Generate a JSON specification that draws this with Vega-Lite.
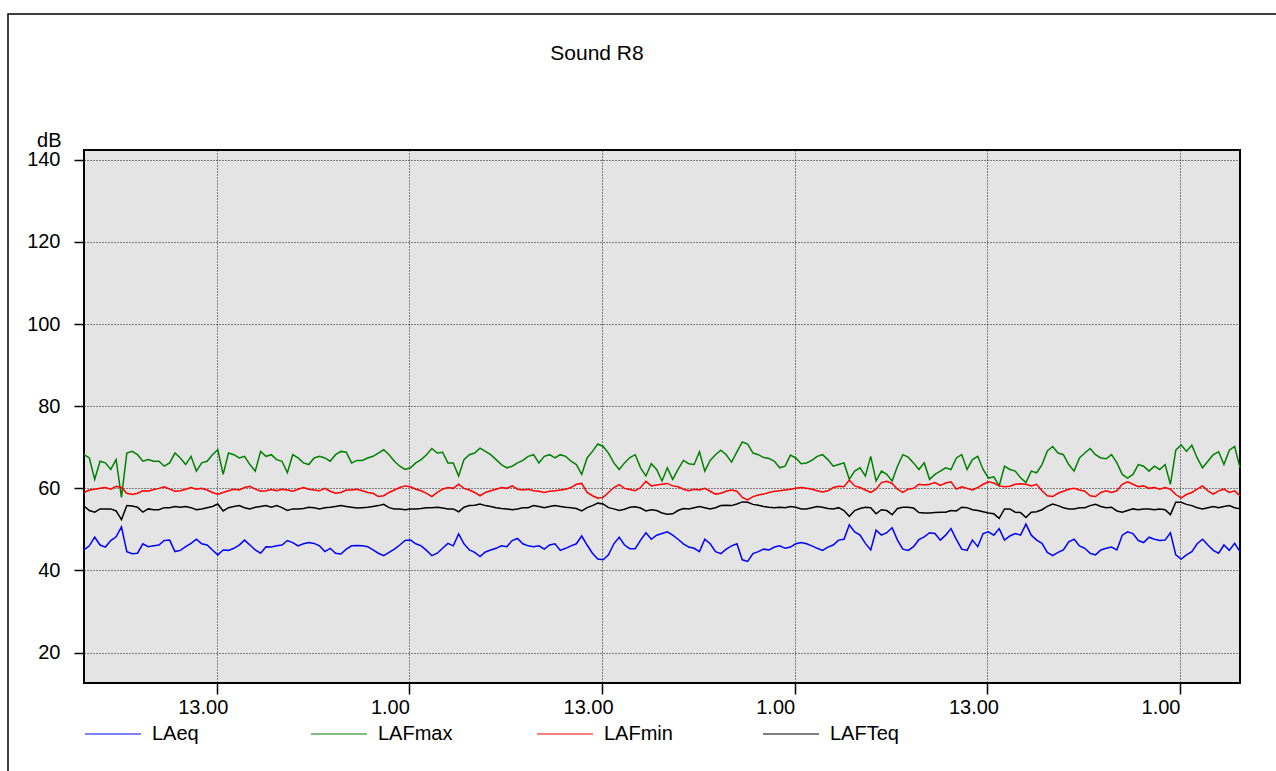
{
"$schema":"https://vega.github.io/schema/vega-lite/v6.json",
"width":1156,"height":533,
"autosize":"none",
"padding":{"left":84,"top":150,"right":36,"bottom":88},
"background":"white",
"config":{"font":"Liberation Sans","view":{"fill":"#e4e4e4","stroke":"#000","strokeWidth":2}},
"title":{"text":"Sound R8","frame":"group","anchor":"middle","dx":-65,"offset":-68,"baseline":"alphabetic","fontSize":21,"fontWeight":"normal","font":"Liberation Sans","color":"#000"},
"layer":[
{"data":{"values":[{}]},
 "mark":{"type":"rect","fill":null,"stroke":"#000","strokeWidth":1.5},
 "encoding":{
  "x":{"datum":{"year":2023,"month":6,"date":5,"hours":0,"minutes":0},"type":"temporal"},
  "x2":{"datum":{"year":2023,"month":6,"date":9,"hours":12,"minutes":0}},
  "y":{"datum":175.5,"type":"quantitative"},
  "y2":{"datum":-60}
 }},
{"data":{"values":[
{"t":"2023-06-05T04:44","LAeq":45.0,"LAFmax":68.2,"LAFmin":59.0,"LAFTeq":55.7},
{"t":"2023-06-05T05:04","LAeq":46.0,"LAFmax":67.4,"LAFmin":59.6,"LAFTeq":54.6},
{"t":"2023-06-05T05:24","LAeq":48.1,"LAFmax":62.2,"LAFmin":59.8,"LAFTeq":54.2},
{"t":"2023-06-05T05:44","LAeq":46.2,"LAFmax":66.6,"LAFmin":60.0,"LAFTeq":55.0},
{"t":"2023-06-05T06:04","LAeq":45.7,"LAFmax":66.2,"LAFmin":60.2,"LAFTeq":55.0},
{"t":"2023-06-05T06:24","LAeq":47.3,"LAFmax":64.6,"LAFmin":59.8,"LAFTeq":55.0},
{"t":"2023-06-05T06:44","LAeq":48.2,"LAFmax":67.0,"LAFmin":60.5,"LAFTeq":54.5},
{"t":"2023-06-05T07:04","LAeq":50.6,"LAFmax":57.8,"LAFmin":60.2,"LAFTeq":52.4},
{"t":"2023-06-05T07:24","LAeq":44.6,"LAFmax":68.6,"LAFmin":58.8,"LAFTeq":55.8},
{"t":"2023-06-05T07:44","LAeq":44.1,"LAFmax":69.0,"LAFmin":58.5,"LAFTeq":55.7},
{"t":"2023-06-05T08:04","LAeq":44.2,"LAFmax":68.2,"LAFmin":58.8,"LAFTeq":55.4},
{"t":"2023-06-05T08:24","LAeq":46.5,"LAFmax":66.6,"LAFmin":59.4,"LAFTeq":54.2},
{"t":"2023-06-05T08:44","LAeq":45.8,"LAFmax":67.0,"LAFmin":59.3,"LAFTeq":55.0},
{"t":"2023-06-05T09:04","LAeq":46.0,"LAFmax":66.6,"LAFmin":59.7,"LAFTeq":54.8},
{"t":"2023-06-05T09:24","LAeq":46.2,"LAFmax":66.6,"LAFmin":60.0,"LAFTeq":54.8},
{"t":"2023-06-05T09:44","LAeq":47.3,"LAFmax":65.4,"LAFmin":60.4,"LAFTeq":55.3},
{"t":"2023-06-05T10:04","LAeq":47.4,"LAFmax":66.2,"LAFmin":59.8,"LAFTeq":55.3},
{"t":"2023-06-05T10:24","LAeq":44.6,"LAFmax":68.6,"LAFmin":59.3,"LAFTeq":55.6},
{"t":"2023-06-05T10:44","LAeq":44.9,"LAFmax":67.4,"LAFmin":59.4,"LAFTeq":55.4},
{"t":"2023-06-05T11:04","LAeq":45.8,"LAFmax":65.8,"LAFmin":59.8,"LAFTeq":55.6},
{"t":"2023-06-05T11:24","LAeq":46.6,"LAFmax":67.8,"LAFmin":60.2,"LAFTeq":55.3},
{"t":"2023-06-05T11:44","LAeq":47.6,"LAFmax":64.2,"LAFmin":59.8,"LAFTeq":54.8},
{"t":"2023-06-05T12:04","LAeq":46.5,"LAFmax":66.2,"LAFmin":60.0,"LAFTeq":55.0},
{"t":"2023-06-05T12:24","LAeq":46.2,"LAFmax":66.6,"LAFmin":59.6,"LAFTeq":55.3},
{"t":"2023-06-05T12:44","LAeq":45.0,"LAFmax":68.2,"LAFmin":59.0,"LAFTeq":55.6},
{"t":"2023-06-05T13:04","LAeq":43.8,"LAFmax":69.4,"LAFmin":58.6,"LAFTeq":56.2},
{"t":"2023-06-05T13:24","LAeq":45.0,"LAFmax":63.4,"LAFmin":59.0,"LAFTeq":54.5},
{"t":"2023-06-05T13:44","LAeq":44.9,"LAFmax":68.6,"LAFmin":59.4,"LAFTeq":55.3},
{"t":"2023-06-05T14:04","LAeq":45.4,"LAFmax":68.2,"LAFmin":59.8,"LAFTeq":55.6},
{"t":"2023-06-05T14:24","LAeq":46.2,"LAFmax":67.4,"LAFmin":59.6,"LAFTeq":55.8},
{"t":"2023-06-05T14:44","LAeq":47.4,"LAFmax":67.8,"LAFmin":60.2,"LAFTeq":55.3},
{"t":"2023-06-05T15:04","LAeq":46.2,"LAFmax":65.8,"LAFmin":60.5,"LAFTeq":55.0},
{"t":"2023-06-05T15:24","LAeq":45.0,"LAFmax":64.2,"LAFmin":59.8,"LAFTeq":55.4},
{"t":"2023-06-05T15:44","LAeq":44.2,"LAFmax":69.0,"LAFmin":59.3,"LAFTeq":55.6},
{"t":"2023-06-05T16:04","LAeq":45.8,"LAFmax":67.8,"LAFmin":59.4,"LAFTeq":55.8},
{"t":"2023-06-05T16:24","LAeq":45.7,"LAFmax":68.2,"LAFmin":59.7,"LAFTeq":55.4},
{"t":"2023-06-05T16:44","LAeq":46.0,"LAFmax":67.0,"LAFmin":59.4,"LAFTeq":55.8},
{"t":"2023-06-05T17:04","LAeq":46.2,"LAFmax":66.6,"LAFmin":59.8,"LAFTeq":55.3},
{"t":"2023-06-05T17:24","LAeq":47.3,"LAFmax":63.8,"LAFmin":59.6,"LAFTeq":54.6},
{"t":"2023-06-05T17:44","LAeq":46.8,"LAFmax":68.2,"LAFmin":59.3,"LAFTeq":55.0},
{"t":"2023-06-05T18:04","LAeq":46.0,"LAFmax":67.4,"LAFmin":59.8,"LAFTeq":55.0},
{"t":"2023-06-05T18:24","LAeq":46.5,"LAFmax":66.2,"LAFmin":60.2,"LAFTeq":55.1},
{"t":"2023-06-05T18:44","LAeq":46.8,"LAFmax":65.8,"LAFmin":59.8,"LAFTeq":55.4},
{"t":"2023-06-05T19:04","LAeq":46.6,"LAFmax":67.4,"LAFmin":59.6,"LAFTeq":55.3},
{"t":"2023-06-05T19:24","LAeq":46.0,"LAFmax":67.8,"LAFmin":59.4,"LAFTeq":55.0},
{"t":"2023-06-05T19:44","LAeq":44.6,"LAFmax":67.4,"LAFmin":60.0,"LAFTeq":55.3},
{"t":"2023-06-05T20:04","LAeq":45.4,"LAFmax":66.6,"LAFmin":59.3,"LAFTeq":55.4},
{"t":"2023-06-05T20:24","LAeq":44.2,"LAFmax":68.2,"LAFmin":58.8,"LAFTeq":55.6},
{"t":"2023-06-05T20:44","LAeq":44.0,"LAFmax":69.0,"LAFmin":59.0,"LAFTeq":55.8},
{"t":"2023-06-05T21:04","LAeq":45.2,"LAFmax":68.8,"LAFmin":59.6,"LAFTeq":55.6},
{"t":"2023-06-05T21:24","LAeq":46.0,"LAFmax":66.2,"LAFmin":59.6,"LAFTeq":55.4},
{"t":"2023-06-05T21:44","LAeq":46.1,"LAFmax":66.8,"LAFmin":59.8,"LAFTeq":55.2},
{"t":"2023-06-05T22:04","LAeq":46.0,"LAFmax":66.8,"LAFmin":59.4,"LAFTeq":55.3},
{"t":"2023-06-05T22:24","LAeq":45.8,"LAFmax":67.4,"LAFmin":59.0,"LAFTeq":55.4},
{"t":"2023-06-05T22:44","LAeq":45.0,"LAFmax":67.8,"LAFmin":58.8,"LAFTeq":55.6},
{"t":"2023-06-05T23:04","LAeq":44.2,"LAFmax":68.6,"LAFmin":58.0,"LAFTeq":55.8},
{"t":"2023-06-05T23:24","LAeq":43.6,"LAFmax":69.4,"LAFmin":58.2,"LAFTeq":56.1},
{"t":"2023-06-05T23:44","LAeq":44.4,"LAFmax":68.2,"LAFmin":59.0,"LAFTeq":55.3},
{"t":"2023-06-06T00:04","LAeq":45.2,"LAFmax":66.6,"LAFmin":59.6,"LAFTeq":55.0},
{"t":"2023-06-06T00:24","LAeq":46.2,"LAFmax":65.4,"LAFmin":60.2,"LAFTeq":55.0},
{"t":"2023-06-06T00:44","LAeq":47.3,"LAFmax":64.6,"LAFmin":60.6,"LAFTeq":54.8},
{"t":"2023-06-06T01:04","LAeq":47.4,"LAFmax":65.0,"LAFmin":60.4,"LAFTeq":55.0},
{"t":"2023-06-06T01:24","LAeq":46.5,"LAFmax":66.2,"LAFmin":59.8,"LAFTeq":55.0},
{"t":"2023-06-06T01:44","LAeq":46.0,"LAFmax":67.0,"LAFmin":59.4,"LAFTeq":55.1},
{"t":"2023-06-06T02:04","LAeq":44.9,"LAFmax":68.2,"LAFmin":58.8,"LAFTeq":55.3},
{"t":"2023-06-06T02:24","LAeq":43.6,"LAFmax":69.7,"LAFmin":58.0,"LAFTeq":55.3},
{"t":"2023-06-06T02:44","LAeq":44.2,"LAFmax":68.6,"LAFmin":59.0,"LAFTeq":55.4},
{"t":"2023-06-06T03:04","LAeq":45.4,"LAFmax":68.8,"LAFmin":59.8,"LAFTeq":55.2},
{"t":"2023-06-06T03:24","LAeq":46.6,"LAFmax":66.2,"LAFmin":60.2,"LAFTeq":55.0},
{"t":"2023-06-06T03:44","LAeq":46.0,"LAFmax":66.2,"LAFmin":60.0,"LAFTeq":55.0},
{"t":"2023-06-06T04:04","LAeq":48.9,"LAFmax":63.0,"LAFmin":61.0,"LAFTeq":54.3},
{"t":"2023-06-06T04:24","LAeq":46.5,"LAFmax":67.0,"LAFmin":60.0,"LAFTeq":55.4},
{"t":"2023-06-06T04:44","LAeq":45.0,"LAFmax":68.2,"LAFmin":59.6,"LAFTeq":55.8},
{"t":"2023-06-06T05:04","LAeq":44.4,"LAFmax":68.6,"LAFmin":59.0,"LAFTeq":55.9},
{"t":"2023-06-06T05:24","LAeq":43.4,"LAFmax":69.8,"LAFmin":58.2,"LAFTeq":56.2},
{"t":"2023-06-06T05:44","LAeq":44.5,"LAFmax":69.0,"LAFmin":59.0,"LAFTeq":55.8},
{"t":"2023-06-06T06:04","LAeq":45.0,"LAFmax":68.2,"LAFmin":59.4,"LAFTeq":55.6},
{"t":"2023-06-06T06:24","LAeq":45.4,"LAFmax":67.0,"LAFmin":59.8,"LAFTeq":55.3},
{"t":"2023-06-06T06:44","LAeq":46.0,"LAFmax":65.8,"LAFmin":60.2,"LAFTeq":55.1},
{"t":"2023-06-06T07:04","LAeq":45.8,"LAFmax":65.0,"LAFmin":60.0,"LAFTeq":55.0},
{"t":"2023-06-06T07:24","LAeq":47.3,"LAFmax":65.4,"LAFmin":60.6,"LAFTeq":54.8},
{"t":"2023-06-06T07:44","LAeq":47.8,"LAFmax":66.2,"LAFmin":59.8,"LAFTeq":55.0},
{"t":"2023-06-06T08:04","LAeq":46.5,"LAFmax":66.8,"LAFmin":59.6,"LAFTeq":55.3},
{"t":"2023-06-06T08:24","LAeq":46.0,"LAFmax":67.8,"LAFmin":59.8,"LAFTeq":55.3},
{"t":"2023-06-06T08:44","LAeq":45.8,"LAFmax":68.2,"LAFmin":59.4,"LAFTeq":55.8},
{"t":"2023-06-06T09:04","LAeq":46.0,"LAFmax":66.2,"LAFmin":59.3,"LAFTeq":55.6},
{"t":"2023-06-06T09:24","LAeq":45.2,"LAFmax":67.8,"LAFmin":59.0,"LAFTeq":55.3},
{"t":"2023-06-06T09:44","LAeq":46.2,"LAFmax":68.2,"LAFmin":59.3,"LAFTeq":55.6},
{"t":"2023-06-06T10:04","LAeq":46.5,"LAFmax":67.4,"LAFmin":59.4,"LAFTeq":55.8},
{"t":"2023-06-06T10:24","LAeq":44.9,"LAFmax":68.2,"LAFmin":59.6,"LAFTeq":55.6},
{"t":"2023-06-06T10:44","LAeq":45.4,"LAFmax":67.8,"LAFmin":59.8,"LAFTeq":55.4},
{"t":"2023-06-06T11:04","LAeq":46.0,"LAFmax":66.6,"LAFmin":60.2,"LAFTeq":55.3},
{"t":"2023-06-06T11:24","LAeq":46.5,"LAFmax":65.8,"LAFmin":61.0,"LAFTeq":55.1},
{"t":"2023-06-06T11:44","LAeq":48.4,"LAFmax":63.4,"LAFmin":61.2,"LAFTeq":54.5},
{"t":"2023-06-06T12:04","LAeq":46.2,"LAFmax":67.4,"LAFmin":59.0,"LAFTeq":55.3},
{"t":"2023-06-06T12:24","LAeq":44.2,"LAFmax":69.0,"LAFmin":58.2,"LAFTeq":55.8},
{"t":"2023-06-06T12:44","LAeq":42.8,"LAFmax":70.8,"LAFmin":57.6,"LAFTeq":56.4},
{"t":"2023-06-06T13:04","LAeq":42.6,"LAFmax":70.2,"LAFmin":57.8,"LAFTeq":56.2},
{"t":"2023-06-06T13:24","LAeq":43.8,"LAFmax":68.6,"LAFmin":59.0,"LAFTeq":55.3},
{"t":"2023-06-06T13:44","LAeq":46.5,"LAFmax":66.2,"LAFmin":60.2,"LAFTeq":55.0},
{"t":"2023-06-06T14:04","LAeq":48.1,"LAFmax":64.6,"LAFmin":60.9,"LAFTeq":54.6},
{"t":"2023-06-06T14:24","LAeq":46.2,"LAFmax":66.2,"LAFmin":60.0,"LAFTeq":54.9},
{"t":"2023-06-06T14:44","LAeq":45.3,"LAFmax":67.5,"LAFmin":59.7,"LAFTeq":55.4},
{"t":"2023-06-06T15:04","LAeq":45.3,"LAFmax":68.2,"LAFmin":59.4,"LAFTeq":55.5},
{"t":"2023-06-06T15:24","LAeq":47.4,"LAFmax":65.0,"LAFmin":60.2,"LAFTeq":55.2},
{"t":"2023-06-06T15:44","LAeq":49.2,"LAFmax":63.0,"LAFmin":61.7,"LAFTeq":54.5},
{"t":"2023-06-06T16:04","LAeq":47.6,"LAFmax":66.0,"LAFmin":60.6,"LAFTeq":54.8},
{"t":"2023-06-06T16:24","LAeq":48.6,"LAFmax":64.6,"LAFmin":60.8,"LAFTeq":54.6},
{"t":"2023-06-06T16:44","LAeq":49.0,"LAFmax":61.8,"LAFmin":61.0,"LAFTeq":54.0},
{"t":"2023-06-06T17:04","LAeq":49.4,"LAFmax":65.0,"LAFmin":61.2,"LAFTeq":53.7},
{"t":"2023-06-06T17:24","LAeq":48.6,"LAFmax":62.2,"LAFmin":60.6,"LAFTeq":53.8},
{"t":"2023-06-06T17:44","LAeq":47.6,"LAFmax":64.6,"LAFmin":60.4,"LAFTeq":54.6},
{"t":"2023-06-06T18:04","LAeq":46.5,"LAFmax":66.8,"LAFmin":59.8,"LAFTeq":55.1},
{"t":"2023-06-06T18:24","LAeq":45.7,"LAFmax":66.0,"LAFmin":59.4,"LAFTeq":55.0},
{"t":"2023-06-06T18:44","LAeq":45.4,"LAFmax":65.8,"LAFmin":59.8,"LAFTeq":55.3},
{"t":"2023-06-06T19:04","LAeq":44.6,"LAFmax":68.9,"LAFmin":59.6,"LAFTeq":55.6},
{"t":"2023-06-06T19:24","LAeq":47.6,"LAFmax":64.2,"LAFmin":60.0,"LAFTeq":55.3},
{"t":"2023-06-06T19:44","LAeq":46.5,"LAFmax":66.8,"LAFmin":59.3,"LAFTeq":55.0},
{"t":"2023-06-06T20:04","LAeq":44.6,"LAFmax":68.2,"LAFmin":58.6,"LAFTeq":55.3},
{"t":"2023-06-06T20:24","LAeq":44.1,"LAFmax":69.3,"LAFmin":58.8,"LAFTeq":55.8},
{"t":"2023-06-06T20:44","LAeq":45.2,"LAFmax":68.2,"LAFmin":59.3,"LAFTeq":55.9},
{"t":"2023-06-06T21:04","LAeq":46.0,"LAFmax":66.4,"LAFmin":59.6,"LAFTeq":55.8},
{"t":"2023-06-06T21:24","LAeq":46.5,"LAFmax":68.9,"LAFmin":59.3,"LAFTeq":56.2},
{"t":"2023-06-06T21:44","LAeq":42.6,"LAFmax":71.3,"LAFmin":57.8,"LAFTeq":56.7},
{"t":"2023-06-06T22:04","LAeq":42.2,"LAFmax":70.8,"LAFmin":57.2,"LAFTeq":56.6},
{"t":"2023-06-06T22:24","LAeq":44.1,"LAFmax":68.6,"LAFmin":58.0,"LAFTeq":56.1},
{"t":"2023-06-06T22:44","LAeq":44.6,"LAFmax":68.2,"LAFmin":58.4,"LAFTeq":55.9},
{"t":"2023-06-06T23:04","LAeq":45.2,"LAFmax":67.5,"LAFmin":58.6,"LAFTeq":55.6},
{"t":"2023-06-06T23:24","LAeq":45.0,"LAFmax":67.3,"LAFmin":59.0,"LAFTeq":55.4},
{"t":"2023-06-06T23:44","LAeq":45.7,"LAFmax":66.6,"LAFmin":59.3,"LAFTeq":55.3},
{"t":"2023-06-07T00:04","LAeq":46.0,"LAFmax":65.0,"LAFmin":59.4,"LAFTeq":55.4},
{"t":"2023-06-07T00:24","LAeq":45.4,"LAFmax":65.4,"LAFmin":59.6,"LAFTeq":55.3},
{"t":"2023-06-07T00:44","LAeq":45.7,"LAFmax":68.1,"LAFmin":59.8,"LAFTeq":55.6},
{"t":"2023-06-07T01:04","LAeq":46.5,"LAFmax":67.4,"LAFmin":60.0,"LAFTeq":55.4},
{"t":"2023-06-07T01:24","LAeq":46.8,"LAFmax":66.0,"LAFmin":60.2,"LAFTeq":55.0},
{"t":"2023-06-07T01:44","LAeq":46.5,"LAFmax":66.2,"LAFmin":60.0,"LAFTeq":55.0},
{"t":"2023-06-07T02:04","LAeq":46.0,"LAFmax":66.8,"LAFmin":59.8,"LAFTeq":55.3},
{"t":"2023-06-07T02:24","LAeq":45.4,"LAFmax":67.8,"LAFmin":59.4,"LAFTeq":55.6},
{"t":"2023-06-07T02:44","LAeq":44.9,"LAFmax":68.2,"LAFmin":59.1,"LAFTeq":55.4},
{"t":"2023-06-07T03:04","LAeq":45.7,"LAFmax":67.0,"LAFmin":59.4,"LAFTeq":55.1},
{"t":"2023-06-07T03:24","LAeq":46.2,"LAFmax":65.4,"LAFmin":60.2,"LAFTeq":55.0},
{"t":"2023-06-07T03:44","LAeq":47.4,"LAFmax":65.8,"LAFmin":60.5,"LAFTeq":55.3},
{"t":"2023-06-07T04:04","LAeq":47.6,"LAFmax":66.2,"LAFmin":60.4,"LAFTeq":54.6},
{"t":"2023-06-07T04:24","LAeq":51.1,"LAFmax":62.2,"LAFmin":62.0,"LAFTeq":53.2},
{"t":"2023-06-07T04:44","LAeq":49.4,"LAFmax":64.2,"LAFmin":60.6,"LAFTeq":54.6},
{"t":"2023-06-07T05:04","LAeq":48.6,"LAFmax":65.0,"LAFmin":60.2,"LAFTeq":55.1},
{"t":"2023-06-07T05:24","LAeq":46.6,"LAFmax":63.0,"LAFmin":59.6,"LAFTeq":55.4},
{"t":"2023-06-07T05:44","LAeq":45.0,"LAFmax":67.8,"LAFmin":59.0,"LAFTeq":55.3},
{"t":"2023-06-07T06:04","LAeq":49.8,"LAFmax":61.8,"LAFmin":59.8,"LAFTeq":53.8},
{"t":"2023-06-07T06:24","LAeq":48.6,"LAFmax":64.2,"LAFmin":61.4,"LAFTeq":54.8},
{"t":"2023-06-07T06:44","LAeq":49.2,"LAFmax":63.4,"LAFmin":61.7,"LAFTeq":54.6},
{"t":"2023-06-07T07:04","LAeq":50.4,"LAFmax":61.8,"LAFmin":61.2,"LAFTeq":53.6},
{"t":"2023-06-07T07:24","LAeq":47.4,"LAFmax":65.4,"LAFmin":59.8,"LAFTeq":55.1},
{"t":"2023-06-07T07:44","LAeq":45.2,"LAFmax":68.2,"LAFmin":59.0,"LAFTeq":55.4},
{"t":"2023-06-07T08:04","LAeq":44.9,"LAFmax":67.6,"LAFmin":59.8,"LAFTeq":55.4},
{"t":"2023-06-07T08:24","LAeq":45.8,"LAFmax":66.2,"LAFmin":60.0,"LAFTeq":55.2},
{"t":"2023-06-07T08:44","LAeq":47.5,"LAFmax":64.6,"LAFmin":61.0,"LAFTeq":54.1},
{"t":"2023-06-07T09:04","LAeq":48.2,"LAFmax":66.2,"LAFmin":60.8,"LAFTeq":54.0},
{"t":"2023-06-07T09:24","LAeq":49.2,"LAFmax":62.2,"LAFmin":61.0,"LAFTeq":54.0},
{"t":"2023-06-07T09:44","LAeq":49.0,"LAFmax":63.4,"LAFmin":61.4,"LAFTeq":54.1},
{"t":"2023-06-07T10:04","LAeq":47.4,"LAFmax":64.2,"LAFmin":60.7,"LAFTeq":54.2},
{"t":"2023-06-07T10:24","LAeq":48.6,"LAFmax":65.0,"LAFmin":61.3,"LAFTeq":54.2},
{"t":"2023-06-07T10:44","LAeq":50.2,"LAFmax":64.6,"LAFmin":61.6,"LAFTeq":54.6},
{"t":"2023-06-07T11:04","LAeq":47.6,"LAFmax":67.4,"LAFmin":59.8,"LAFTeq":54.5},
{"t":"2023-06-07T11:24","LAeq":45.2,"LAFmax":68.2,"LAFmin":60.4,"LAFTeq":55.4},
{"t":"2023-06-07T11:44","LAeq":44.9,"LAFmax":64.6,"LAFmin":60.0,"LAFTeq":55.3},
{"t":"2023-06-07T12:04","LAeq":47.4,"LAFmax":67.0,"LAFmin":59.6,"LAFTeq":54.8},
{"t":"2023-06-07T12:24","LAeq":45.8,"LAFmax":67.8,"LAFmin":60.2,"LAFTeq":54.6},
{"t":"2023-06-07T12:44","LAeq":49.0,"LAFmax":64.6,"LAFmin":61.0,"LAFTeq":54.3},
{"t":"2023-06-07T13:04","LAeq":49.4,"LAFmax":62.5,"LAFmin":61.6,"LAFTeq":54.0},
{"t":"2023-06-07T13:24","LAeq":48.6,"LAFmax":62.8,"LAFmin":61.3,"LAFTeq":53.8},
{"t":"2023-06-07T13:44","LAeq":50.2,"LAFmax":60.6,"LAFmin":60.6,"LAFTeq":52.7},
{"t":"2023-06-07T14:04","LAeq":47.4,"LAFmax":65.4,"LAFmin":60.4,"LAFTeq":55.0},
{"t":"2023-06-07T14:24","LAeq":48.4,"LAFmax":64.6,"LAFmin":60.5,"LAFTeq":55.0},
{"t":"2023-06-07T14:44","LAeq":49.0,"LAFmax":64.2,"LAFmin":61.0,"LAFTeq":54.2},
{"t":"2023-06-07T15:04","LAeq":48.6,"LAFmax":62.6,"LAFmin":61.1,"LAFTeq":54.1},
{"t":"2023-06-07T15:24","LAeq":51.3,"LAFmax":61.4,"LAFmin":61.0,"LAFTeq":52.9},
{"t":"2023-06-07T15:44","LAeq":48.6,"LAFmax":64.2,"LAFmin":60.6,"LAFTeq":54.2},
{"t":"2023-06-07T16:04","LAeq":47.4,"LAFmax":63.8,"LAFmin":61.0,"LAFTeq":54.3},
{"t":"2023-06-07T16:24","LAeq":46.6,"LAFmax":65.8,"LAFmin":59.4,"LAFTeq":54.8},
{"t":"2023-06-07T16:44","LAeq":44.4,"LAFmax":69.1,"LAFmin":58.2,"LAFTeq":55.6},
{"t":"2023-06-07T17:04","LAeq":43.6,"LAFmax":70.2,"LAFmin":58.0,"LAFTeq":56.2},
{"t":"2023-06-07T17:24","LAeq":44.4,"LAFmax":68.6,"LAFmin":58.8,"LAFTeq":55.8},
{"t":"2023-06-07T17:44","LAeq":45.0,"LAFmax":68.2,"LAFmin":59.3,"LAFTeq":55.3},
{"t":"2023-06-07T18:04","LAeq":47.0,"LAFmax":65.8,"LAFmin":59.8,"LAFTeq":55.0},
{"t":"2023-06-07T18:24","LAeq":47.6,"LAFmax":64.2,"LAFmin":60.0,"LAFTeq":55.0},
{"t":"2023-06-07T18:44","LAeq":46.0,"LAFmax":67.4,"LAFmin":59.6,"LAFTeq":55.3},
{"t":"2023-06-07T19:04","LAeq":45.4,"LAFmax":68.6,"LAFmin":59.3,"LAFTeq":55.3},
{"t":"2023-06-07T19:24","LAeq":44.2,"LAFmax":69.7,"LAFmin":58.2,"LAFTeq":55.8},
{"t":"2023-06-07T19:44","LAeq":43.8,"LAFmax":68.2,"LAFmin":58.0,"LAFTeq":56.1},
{"t":"2023-06-07T20:04","LAeq":45.0,"LAFmax":67.4,"LAFmin":59.0,"LAFTeq":55.6},
{"t":"2023-06-07T20:24","LAeq":45.4,"LAFmax":67.2,"LAFmin":59.4,"LAFTeq":55.3},
{"t":"2023-06-07T20:44","LAeq":45.7,"LAFmax":68.2,"LAFmin":59.0,"LAFTeq":55.4},
{"t":"2023-06-07T21:04","LAeq":45.0,"LAFmax":66.2,"LAFmin":59.4,"LAFTeq":54.5},
{"t":"2023-06-07T21:24","LAeq":48.6,"LAFmax":63.4,"LAFmin":61.0,"LAFTeq":54.2},
{"t":"2023-06-07T21:44","LAeq":49.4,"LAFmax":62.5,"LAFmin":61.6,"LAFTeq":54.6},
{"t":"2023-06-07T22:04","LAeq":49.0,"LAFmax":63.4,"LAFmin":61.0,"LAFTeq":55.0},
{"t":"2023-06-07T22:24","LAeq":47.3,"LAFmax":65.8,"LAFmin":60.4,"LAFTeq":54.8},
{"t":"2023-06-07T22:44","LAeq":46.8,"LAFmax":65.4,"LAFmin":60.6,"LAFTeq":55.0},
{"t":"2023-06-07T23:04","LAeq":48.1,"LAFmax":64.2,"LAFmin":60.0,"LAFTeq":55.0},
{"t":"2023-06-07T23:24","LAeq":47.6,"LAFmax":65.4,"LAFmin":60.2,"LAFTeq":54.8},
{"t":"2023-06-07T23:44","LAeq":47.3,"LAFmax":64.6,"LAFmin":59.8,"LAFTeq":55.0},
{"t":"2023-06-08T00:04","LAeq":47.4,"LAFmax":65.8,"LAFmin":60.2,"LAFTeq":54.8},
{"t":"2023-06-08T00:24","LAeq":49.2,"LAFmax":61.0,"LAFmin":59.8,"LAFTeq":53.6},
{"t":"2023-06-08T00:44","LAeq":43.8,"LAFmax":69.3,"LAFmin":58.5,"LAFTeq":56.6},
{"t":"2023-06-08T01:04","LAeq":42.8,"LAFmax":70.6,"LAFmin":57.7,"LAFTeq":56.6},
{"t":"2023-06-08T01:24","LAeq":43.8,"LAFmax":69.0,"LAFmin":58.5,"LAFTeq":56.1},
{"t":"2023-06-08T01:44","LAeq":44.6,"LAFmax":70.5,"LAFmin":59.0,"LAFTeq":55.8},
{"t":"2023-06-08T02:04","LAeq":46.5,"LAFmax":67.4,"LAFmin":59.8,"LAFTeq":55.3},
{"t":"2023-06-08T02:24","LAeq":47.6,"LAFmax":65.0,"LAFmin":60.6,"LAFTeq":55.0},
{"t":"2023-06-08T02:44","LAeq":46.2,"LAFmax":66.6,"LAFmin":59.4,"LAFTeq":55.3},
{"t":"2023-06-08T03:04","LAeq":44.9,"LAFmax":68.2,"LAFmin":58.6,"LAFTeq":55.6},
{"t":"2023-06-08T03:24","LAeq":44.2,"LAFmax":68.9,"LAFmin":59.4,"LAFTeq":55.3},
{"t":"2023-06-08T03:44","LAeq":46.2,"LAFmax":65.8,"LAFmin":59.8,"LAFTeq":55.6},
{"t":"2023-06-08T04:04","LAeq":44.9,"LAFmax":69.3,"LAFmin":59.0,"LAFTeq":55.8},
{"t":"2023-06-08T04:24","LAeq":46.6,"LAFmax":70.2,"LAFmin":59.4,"LAFTeq":55.3},
{"t":"2023-06-08T04:44","LAeq":44.6,"LAFmax":65.0,"LAFmin":58.2,"LAFTeq":55.0}
 ]},
 "transform":[{"fold":["LAeq","LAFmax","LAFmin","LAFTeq"],"as":["series","dB"]}],
 "mark":{"type":"line","strokeWidth":1.5},
 "encoding":{
  "x":{"field":"t","type":"temporal",
   "scale":{"domain":[{"year":2023,"month":6,"date":5,"hours":4,"minutes":44},{"year":2023,"month":6,"date":8,"hours":4,"minutes":44}]},
   "axis":{"title":null,"format":"%-H.%M",
    "values":[{"year":2023,"month":6,"date":5,"hours":13},{"year":2023,"month":6,"date":6,"hours":1},{"year":2023,"month":6,"date":6,"hours":13},{"year":2023,"month":6,"date":7,"hours":1},{"year":2023,"month":6,"date":7,"hours":13},{"year":2023,"month":6,"date":8,"hours":1}],
    "domain":false,"grid":true,"gridColor":"#000","gridDash":[1,2],"gridWidth":1,"gridOpacity":0.9,
    "ticks":true,"tickSize":11,"tickColor":"#000","tickWidth":1.5,
    "labelAlign":"left","labelOffset":-39,"labelPadding":3,"labelFlush":false,"labelOverlap":false,
    "labelFont":"Liberation Sans","labelFontSize":20,"labelColor":"#000"}},
  "y":{"field":"dB","type":"quantitative",
   "scale":{"domain":[12.6,142.4],"nice":false,"zero":false},
   "axis":{"title":"dB","titleAngle":0,"titleAlign":"right","titleBaseline":"alphabetic","titleX":-23,"titleY":-4,
    "titleFont":"Liberation Sans","titleFontSize":20,"titleFontWeight":"normal","titleColor":"#000",
    "values":[20,40,60,80,100,120,140],
    "domain":false,"grid":true,"gridColor":"#000","gridDash":[1,2],"gridWidth":1,"gridOpacity":0.9,
    "tickSize":10,"tickColor":"#000","tickWidth":1.5,"labelPadding":14,
    "labelFont":"Liberation Sans","labelFontSize":20,"labelColor":"#000"}},
  "color":{"field":"series","type":"nominal",
   "scale":{"domain":["LAeq","LAFmax","LAFmin","LAFTeq"],"range":["#0000ff","#008000","#ff0000","#000000"]},
   "legend":{"title":null,"orient":"none","legendX":0,"legendY":555,"direction":"horizontal","columns":4,
    "symbolType":"stroke","symbolSize":3136,"symbolStrokeWidth":1.2,"labelOffset":10,"columnPadding":81,"gridAlign":"all","padding":0,
    "labelFont":"Liberation Sans","labelFontSize":20,"labelColor":"#000"}}
 }}
]
}
